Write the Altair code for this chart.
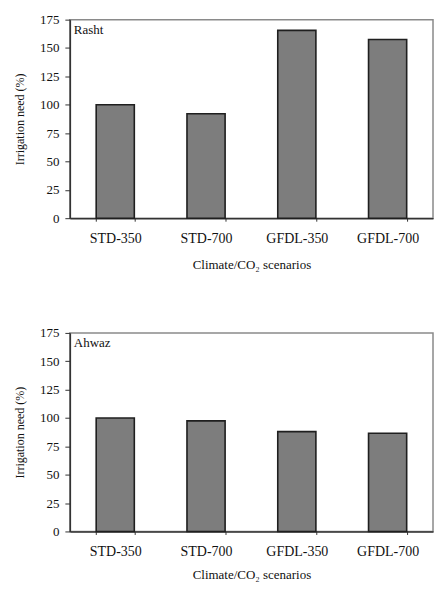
import altair as alt
import pandas as pd

scenarios = ["STD-350", "STD-700", "GFDL-350", "GFDL-700"]
rasht = [100, 92, 165.5, 157.5]
ahwaz = [100, 97.5, 88, 86.5]
stations = ["Rasht", "Ahwaz"]
y_ticks = [0, 25, 50, 75, 100, 125, 150, 175]

FONT = "Liberation Serif"


def panel(name, values, title_pad):
    df = pd.DataFrame({"scenario": scenarios, "need": values, "station": name})
    x = alt.X("scenario:N", sort=scenarios,
              scale=alt.Scale(paddingInner=0.58, paddingOuter=0.29),
              axis=alt.Axis(title="Climate/CO₂ scenarios", labelAngle=0,
                            tickBand="extent", tickSize=3, labelPadding=10,
                            titlePadding=title_pad))
    y = alt.Y("need:Q", scale=alt.Scale(domain=[0, 175], nice=False),
              axis=alt.Axis(title="Irrigation need (%)", values=y_ticks,
                            grid=False, tickSize=5, labelPadding=6,
                            titlePadding=13))
    bars = alt.Chart(df).mark_bar(color="#7d7d7d", stroke="#1f1f1f",
                                  strokeWidth=1.6).encode(x=x, y=y)
    label = alt.Chart(pd.DataFrame({"station": [name]})).mark_text(
        align="left", baseline="top", font=FONT, fontSize=13, color="#111"
    ).encode(x=alt.value(4), y=alt.value(4), text="station:N")
    return alt.layer(bars, label).properties(width=364, height=199)


chart = alt.vconcat(panel(stations[0], rasht, 13),
                    panel(stations[1], ahwaz, 10),
                    spacing=54).properties(
    padding={"left": 4, "top": 4, "right": 2, "bottom": 0}
).configure_view(stroke="#8a8a8a", strokeWidth=1.5).configure_axis(
    labelFont=FONT, titleFont=FONT, labelFontSize=14, titleFontSize=12,
    titleFontWeight="normal", labelColor="#111", titleColor="#111",
    domainColor="#333", tickColor="#333", domainWidth=1.5
).configure_axisY(labelFontSize=13).configure_axisX(titleFontSize=13)

chart.save("out.html", embed_options={"renderer": "svg", "actions": False})
